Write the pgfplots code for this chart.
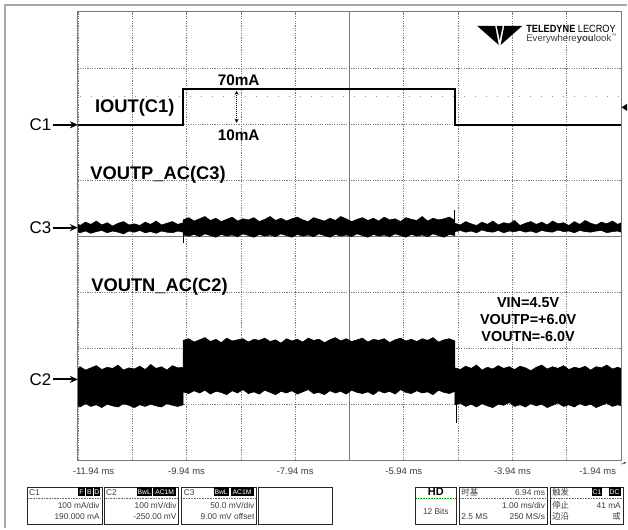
\documentclass[border=0pt]{standalone}
\usepackage{pgfplots}
\pgfplotsset{compat=1.18}
\usepackage{pgfplotstable}
\usepgfplotslibrary{fillbetween}
\usetikzlibrary{arrows.meta}
\usepackage{fontspec}
\setmainfont{Liberation Sans}
\newfontfamily\cjk{Noto Sans CJK SC}

\definecolor{gridgray}{HTML}{7A7A7A}
\definecolor{framegray}{HTML}{A8A8A8}
\definecolor{labelgray}{HTML}{3C3C3C}

% noise envelopes of C2 (VOUTN) and C3 (VOUTP), in divisions
\pgfplotstableread{
x c2u c2l c3u c3l
-11.94 -2.37 -3.02 0.22 0.08
-11.90 -2.33 -3.05 0.19 0.06
-11.80 -2.39 -2.99 0.25 0.09
-11.70 -2.35 -3.04 0.21 0.05
-11.60 -2.31 -3.01 0.27 0.08
-11.50 -2.38 -3.06 0.20 0.10
-11.40 -2.34 -3.00 0.24 0.06
-11.30 -2.36 -3.03 0.18 0.09
-11.20 -2.30 -3.05 0.23 0.07
-11.10 -2.39 -2.99 0.26 0.04
-11.00 -2.35 -3.02 0.20 0.09
-10.90 -2.37 -3.06 0.22 0.07
-10.80 -2.32 -3.01 0.19 0.10
-10.70 -2.38 -3.04 0.25 0.06
-10.60 -2.29 -3.00 0.21 0.08
-10.50 -2.36 -3.03 0.27 0.05
-10.40 -2.33 -3.05 0.20 0.09
-10.30 -2.39 -2.99 0.23 0.07
-10.20 -2.31 -3.02 0.26 0.06
-10.10 -2.35 -3.04 0.21 0.09
-10.00 -2.34 -3.01 0.24 0.07
-10.00 -1.86 -2.78 0.29 0.02
-9.90 -1.83 -2.81 0.33 0.00
-9.80 -1.89 -2.76 0.27 0.03
-9.70 -1.85 -2.80 0.31 -0.01
-9.60 -1.81 -2.75 0.35 0.04
-9.50 -1.88 -2.82 0.28 0.01
-9.40 -1.84 -2.77 0.32 -0.02
-9.30 -1.90 -2.79 0.26 0.03
-9.20 -1.82 -2.83 0.30 0.00
-9.10 -1.87 -2.76 0.34 0.02
-9.00 -1.85 -2.80 0.27 -0.01
-8.90 -1.83 -2.74 0.31 0.04
-8.80 -1.89 -2.81 0.29 0.01
-8.70 -1.84 -2.78 0.33 -0.02
-8.60 -1.86 -2.82 0.26 0.03
-8.50 -1.82 -2.75 0.30 0.00
-8.40 -1.88 -2.79 0.35 0.02
-8.30 -1.85 -2.83 0.28 -0.01
-8.20 -1.91 -2.77 0.32 0.04
-8.10 -1.83 -2.80 0.27 0.01
-8.00 -1.87 -2.76 0.31 -0.02
-7.90 -1.84 -2.82 0.34 0.03
-7.80 -1.89 -2.78 0.29 0.00
-7.70 -1.82 -2.74 0.26 0.02
-7.60 -1.86 -2.81 0.33 -0.01
-7.50 -1.84 -2.79 0.30 0.04
-7.40 -1.90 -2.83 0.27 0.01
-7.30 -1.85 -2.76 0.32 -0.02
-7.20 -1.81 -2.80 0.28 0.03
-7.10 -1.87 -2.77 0.35 0.00
-7.00 -1.83 -2.82 0.31 0.02
-6.90 -1.88 -2.75 0.26 -0.01
-6.80 -1.85 -2.79 0.30 0.04
-6.70 -1.82 -2.81 0.33 0.01
-6.60 -1.89 -2.78 0.28 -0.02
-6.50 -1.84 -2.83 0.32 0.03
-6.40 -1.86 -2.76 0.27 0.00
-6.30 -1.83 -2.80 0.34 0.02
-6.20 -1.90 -2.77 0.29 -0.01
-6.10 -1.85 -2.82 0.31 0.04
-6.00 -1.82 -2.74 0.26 0.01
-5.90 -1.87 -2.79 0.33 -0.02
-5.80 -1.84 -2.81 0.30 0.03
-5.70 -1.88 -2.76 0.28 0.00
-5.60 -1.83 -2.80 0.35 0.02
-5.50 -1.86 -2.78 0.27 -0.01
-5.40 -1.81 -2.83 0.32 0.04
-5.30 -1.89 -2.75 0.29 0.01
-5.20 -1.85 -2.79 0.31 -0.02
-5.10 -1.83 -2.81 0.34 0.03
-5.00 -1.87 -2.77 0.28 0.01
-5.00 -2.35 -3.01 0.23 0.08
-4.90 -2.38 -2.98 0.20 0.10
-4.80 -2.32 -3.04 0.26 0.07
-4.70 -2.36 -3.00 0.22 0.09
-4.60 -2.30 -3.05 0.19 0.06
-4.50 -2.39 -2.99 0.25 0.11
-4.40 -2.34 -3.03 0.21 0.08
-4.30 -2.37 -3.06 0.27 0.07
-4.20 -2.31 -3.00 0.20 0.10
-4.10 -2.36 -3.02 0.24 0.06
-4.00 -2.33 -2.97 0.22 0.09
-3.90 -2.38 -3.04 0.28 0.08
-3.80 -2.32 -3.01 0.19 0.10
-3.70 -2.35 -3.05 0.23 0.07
-3.60 -2.40 -2.99 0.26 0.09
-3.50 -2.34 -3.03 0.21 0.06
-3.40 -2.30 -3.00 0.25 0.10
-3.30 -2.37 -3.06 0.20 0.08
-3.20 -2.33 -3.02 0.27 0.07
-3.10 -2.36 -2.98 0.22 0.11
-3.00 -2.31 -3.04 0.24 0.08
-2.90 -2.38 -3.01 0.19 0.09
-2.80 -2.34 -3.05 0.26 0.06
-2.70 -2.36 -2.99 0.21 0.10
-2.60 -2.32 -3.03 0.28 0.08
-2.50 -2.39 -3.00 0.23 0.07
-2.40 -2.33 -3.06 0.20 0.09
-2.30 -2.35 -3.02 0.25 0.10
-2.20 -2.30 -2.98 0.22 0.06
-2.10 -2.37 -3.04 0.27 0.08
-2.00 -2.34 -3.01 0.21 0.09
-1.94 -2.36 -3.03 0.24 0.07
}\traces

\tikzset{px/.style={x=1bp, y=-1bp, yshift=529bp}}

\begin{document}
\begin{tikzpicture}
% page size and outer frame (pixel coordinates, y downwards)
\begin{scope}[px]
\path (0,0) rectangle (628,529);
\draw[framegray, line width=2bp] (5,529) -- (5,5) -- (628,5);
\draw[gridgray!80, line width=0.8bp, dash pattern=on 1bp off 10bp] (80,97) -- (620,97);
\end{scope}

\begin{axis}[
    set layers,
    at={(78bp,68bp)}, anchor=south west,
    scale only axis, width=544bp, height=449bp,
    xmin=-11.94, xmax=-1.94, ymin=-4, ymax=4,
    axis line style={gridgray, line width=1bp},
    xtick={-11.94,-10.94,-9.94,-8.94,-7.94,-6.94,-5.94,-4.94,-3.94,-2.94,-1.94},
    xticklabels={{\makebox[0pt][l]{\kern-5bp-11.94 ms}},,-9.94 ms,,-7.94 ms,,-5.94 ms,,-3.94 ms,,{\makebox[0pt][r]{-1.94 ms\kern5bp}}},
    ytick={-3,-2,-1,0,1,2,3}, yticklabels={},
    major tick length=0pt,
    grid=major,
    major grid style={gridgray, line width=0.6bp, dash pattern=on 1.2bp off 1.2bp},
    xticklabel style={font=\fontsize{9.5}{10}\selectfont, text=labelgray, yshift=-4bp},
]
% centre graticule with minor ticks, under the traces
\begin{pgfonlayer}{axis grid}
\draw[gridgray, line width=0.6bp] (axis cs:-6.94,-4) -- (axis cs:-6.94,4);
\draw[gridgray, line width=0.6bp] (axis cs:-11.94,0) -- (axis cs:-1.94,0);
\pgfplotsinvokeforeach{1,...,49}{
  \draw[gridgray, line width=0.6bp] (axis cs:{-11.94+#1*0.2},0) ++(0,-2.5bp) -- ++(0,5bp);}
\pgfplotsinvokeforeach{1,...,39}{
  \draw[gridgray, line width=0.6bp] (axis cs:-6.94,{-4+#1*0.2}) ++(-2.5bp,0) -- ++(5bp,0);}
\end{pgfonlayer}

% C1: IOUT step 10 mA -> 70 mA -> 10 mA
\addplot[black, line width=1.8bp] coordinates {
    (-11.94,1.99) (-10.0,1.99) (-10.0,2.63) (-5.0,2.63) (-5.0,1.99) (-1.94,1.99)};

% C3: VOUTP ripple
\addplot[name path=c3u, black, line width=0.5bp] table[x=x, y=c3u] {\traces};
\addplot[name path=c3l, black, line width=0.5bp] table[x=x, y=c3l] {\traces};
\addplot[fill=black] fill between[of=c3u and c3l];
\addplot[black, line width=0.8bp] coordinates {(-10.0,0.05) (-10.0,-0.13)};
\addplot[black, line width=0.8bp] coordinates {(-5.0,0.25) (-5.0,0.46)};

% C2: VOUTN ripple
\addplot[name path=c2u, black, line width=0.5bp] table[x=x, y=c2u] {\traces};
\addplot[name path=c2l, black, line width=0.5bp] table[x=x, y=c2l] {\traces};
\addplot[fill=black] fill between[of=c2u and c2l];
\addplot[black, line width=0.8bp] coordinates {(-4.98,-2.95) (-4.98,-3.33)};
\end{axis}

\begin{scope}[px]
% graticule border
\draw[gridgray, line width=1bp] (78,12) rectangle (622,461);
% annotations
\node[font=\bfseries\fontsize{18.4}{20}\selectfont] at (135,108) {IOUT(C1)};
\node[font=\bfseries\fontsize{15.4}{17}\selectfont] at (239,80) {70mA};
\node[font=\bfseries\fontsize{15.4}{17}\selectfont] at (239,135) {10mA};
\draw[{Stealth[length=4bp,width=4bp]}-{Stealth[length=4bp,width=4bp]}, line width=0.8bp, dash pattern=on 1bp off 1bp] (237,91) -- (237,123);
\node[font=\bfseries\fontsize{18.4}{20}\selectfont, anchor=west] at (87,175) {VOUTP\_AC(C3)};
\node[font=\bfseries\fontsize{18.4}{20}\selectfont, anchor=west] at (88,287) {VOUTN\_AC(C2)};
\node[font=\bfseries\fontsize{14.5}{16}\selectfont] at (529,303) {VIN=4.5V};
\node[font=\bfseries\fontsize{14.5}{16}\selectfont] at (529,320) {VOUTP=+6.0V};
\node[font=\bfseries\fontsize{14.5}{16}\selectfont] at (529,337) {VOUTN=-6.0V};

% channel markers
\foreach \c/\yy in {C1/125, C3/228, C2/380} {
  \node[font=\fontsize{17}{18}\selectfont, anchor=east, inner sep=0.5bp] at (52,\yy) {\c};
  \draw[-{Stealth[length=8bp,width=7bp]}, line width=1.8bp] (53,\yy) -- (78,\yy);
}
% trigger level marker and time arrow
\fill (622.5,107.5) -- (628,104) -- (628,111) -- cycle;
\draw[-{Stealth[length=2.5bp,width=2.5bp]}, line width=0.5bp, labelgray] (622,465) -- (627,463);

% logo
\fill (478,26) -- (496,26) -- (499.5,45) -- cycle;
\fill (523,26) -- (505,26) -- (501.5,45) -- cycle;
\fill (497.5,26) -- (503.5,26) -- (500.5,40) -- cycle;
\node[anchor=west, inner sep=0, font=\fontsize{10.5}{11}\selectfont] at (527,29)
  {\scalebox{0.88}[1]{\textbf{TELEDYNE} LECROY}};
\node[anchor=west, inner sep=0, font=\fontsize{9.6}{10}\selectfont, text=black!75] at (527,39)
  {Everywhere\textbf{you}look\textsuperscript{\tiny\texttrademark}};

% bottom descriptor boxes
\tikzset{box/.style={draw=black!85, line width=0.6bp},
         sep/.style={black!60, line width=0.5bp, dash pattern=on 0.8bp off 0.8bp},
         txt/.style={inner sep=0, font=\fontsize{8.4}{9}\selectfont, text=labelgray},
         badge/.style={fill=black, text=white, inner sep=0, minimum height=9bp, font=\fontsize{6.8}{7}\selectfont}}
\foreach \xa/\xb in {27/102, 104/179, 182/257, 259/333, 416/457, 460/548, 551/624}
  \draw[box] (\xa,488) rectangle (\xb,525);
\foreach \xa/\xb in {27/102, 104/179, 182/257, 460/548, 551/624}
  \draw[sep] (\xa+1,499) -- (\xb-1,499);
\draw[green!60!black, line width=0.5bp, dash pattern=on 0.8bp off 0.8bp] (417,499) -- (456,499);

% C1
\node[txt, anchor=west] at (29,493) {C1};
\node[badge, minimum width=6.5bp] at (81.5,492.5) {F};
\node[badge, minimum width=6.5bp] at (89.5,492.5) {B};
\node[badge, minimum width=6.5bp] at (97,492.5) {D};
\node[txt, anchor=east] at (100,506) {100 mA/div};
\node[txt, anchor=east] at (100,517) {190.000 mA};
% C2
\node[txt, anchor=west] at (106,493) {C2};
\node[badge, minimum width=15bp] at (144.5,492.5) {BwL};
\node[badge, minimum width=23bp] at (165,492.5) {AC1M};
\node[txt, anchor=east] at (177,506) {100 mV/div};
\node[txt, anchor=east] at (177,517) {-250.00 mV};
% C3
\node[txt, anchor=west] at (184,493) {C3};
\node[badge, minimum width=15bp] at (221.5,492.5) {BwL};
\node[badge, minimum width=23bp] at (242.5,492.5) {AC1M};
\node[txt, anchor=east] at (255,506) {50.0 mV/div};
\node[txt, anchor=east] at (255,517) {9.00 mV offset};
% HD
\node[inner sep=0, font=\bfseries\fontsize{11}{12}\selectfont] at (436.5,493) {HD};
\node[txt] at (436.5,512) {12 Bits};
% timebase
\node[txt, anchor=west, font=\cjk\fontsize{8.4}{9}\selectfont] at (462,493) {时基};
\node[txt, anchor=east] at (546,493) {6.94 ms};
\node[txt, anchor=east] at (546,506) {1.00 ms/div};
\node[txt, anchor=west] at (462,517) {2.5 MS};
\node[txt, anchor=east] at (546,517) {250 MS/s};
% trigger
\node[txt, anchor=west, font=\cjk\fontsize{8.4}{9}\selectfont] at (553,493) {触发};
\node[badge, minimum width=10bp] at (598,492.5) {C1};
\node[badge, minimum width=12bp] at (615.5,492.5) {DC};
\node[txt, anchor=west, font=\cjk\fontsize{8.4}{9}\selectfont] at (553,506) {停止};
\node[txt, anchor=east] at (622,506) {41 mA};
\node[txt, anchor=west, font=\cjk\fontsize{8.4}{9}\selectfont] at (553,517) {边沿};
\node[txt, anchor=east, font=\cjk\fontsize{8.4}{9}\selectfont] at (622,517) {或};
\end{scope}
\end{tikzpicture}
\end{document}
